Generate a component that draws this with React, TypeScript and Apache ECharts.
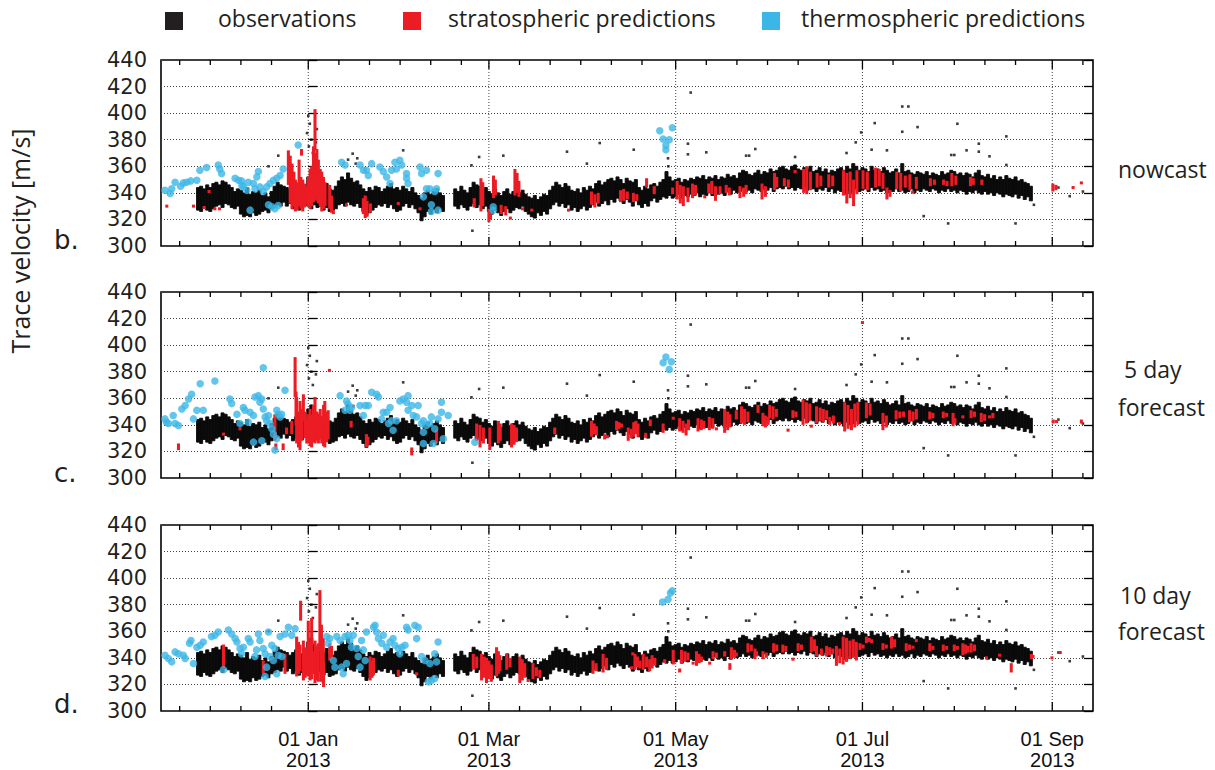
import React, { useEffect, useRef } from "react";
import * as echarts from "echarts";

// x values: days relative to 01 Jan 2013
const X_MIN = -48.1;
const X_MAX = 256.3;
const Y_MIN = 300;
const Y_MAX = 440;
const Y_STEP = 20;

const majorTickDays = [0, 59, 120, 181, 243];
const majorTickLabels = ["01 Jan\n2013", "01 Mar\n2013", "01 May\n2013", "01 Jul\n2013", "01 Sep\n2013"];
const minorTickDays = [-42, -32, -22, -12, 10, 20, 30, 40, 50, 69, 79, 89, 99, 109, 130, 140, 150, 160, 170, 191, 201, 211, 221, 231, 253];

const panelLetters = ["b.", "c.", "d."];
const panelNames = [["nowcast"], ["5 day", "forecast"], ["10 day", "forecast"]];
const legendNames = ["observations", "stratospheric predictions", "thermospheric predictions"];
const yTitle = "Trace velocity [m/s]";

// observations: daily core range, first value = day -36
const obsStartDay = -36;
const obsLow = [
  327, 326, 329, 327, 326, 328, 330, 331, 329, 332,
  331, 329, 328, 330, 324, 322, 323, 322, 325, 323,
  324, 326, 327, 325, 328, 329, 331, 330, 333, 330,
  332, 328, 330, 327, 329, 331, 330, 328, 331, 329,
  330, 327, 329, 326, 327, 328, 331, 332, 330, 333,
  331, 330, 332, 329, 326, 323, 325, 327, 329, 331,
  330, 332, 329, 331, 328, 326, 327, 330, 332, 329,
  331, 328, 325, 319, 322, 326, 324, 327, 325, 328,
  326, null, null, null, 330, 328, 331, 329, 327, 330,
  332, 329, 331, 328, 330, 326, 324, 327, 325, 323,
  326, 328, 325, 327, 329, 328, 330, 326, 324, 322,
  321, 325, 323, 326, 324, 328, 331, 333, 330, 332,
  329, 331, 327, 329, 326, 328, 330, 327, 329, 331,
  333, 330, 332, 334, 331, 335, 333, 336, 334, 332,
  335, 333, 330, 334, 331, 329, 332, 330, 334, 336,
  333, 335, 337, 336, 338, 336, 337, 339, 336, 338,
  337, 339, 338, 340, 337, 339, 338, 340, 338, 341,
  339, 340, 338, 341, 339, 342, 340, 341, 343, 341,
  342, 340, 343, 342, 341, 343, 342, 344, 341, 343,
  344, 343, 345, 343, 344, 342, 344, 343, 345, 342,
  344, 343, 341, 343, 342, 344, 341, 343, 340, 342,
  341, 339, 342, 340, 341, 343, 341, 342, 343, 341,
  344, 342, 343, 341, 342, 340, 342, 341, 343, 341,
  342, 340, 341, 343, 340, 342, 341, 343, 342, 341,
  343, 342, 340, 342, 341, 343, 341, 342, 340, 342,
  341, 339, 341, 340, 342, 340, 339, 341, 339, 340,
  338, 340, 339, 337, 339, 338, 337, 339, 336, 338,
  335, 337, 334,
];
const obsHigh = [
  344, 345, 343, 346, 344, 347, 348, 346, 349, 348,
  346, 344, 341, 343, 342, 340, 344, 339, 341, 340,
  342, 338, 340, 337, 341, 345, 348, 346, 345, 344,
  342, 344, 346, 341, 343, 345, 352, 355, 350, 348,
  346, 344, 347, 343, 342, 345, 349, 352, 350, 355,
  351, 348, 349, 346, 343, 341, 344, 342, 345, 344,
  341, 343, 345, 347, 343, 344, 342, 345, 343, 341,
  344, 340, 338, 336, 340, 342, 339, 341, 343, 340,
  338, null, null, null, 343, 341, 345, 342, 340, 344,
  348, 346, 345, 342, 344, 341, 339, 343, 340, 338,
  341, 343, 339, 341, 343, 340, 342, 339, 337, 336,
  338, 335, 337, 339, 338, 342, 345, 348, 346, 344,
  347, 345, 342, 341, 343, 340, 344, 342, 345, 343,
  347, 349, 346, 348, 350, 351, 349, 352, 350, 347,
  351, 349, 348, 350, 344, 342, 345, 343, 346, 347,
  345, 348, 350, 356, 352, 349, 350, 351, 348, 350,
  349, 351, 350, 352, 351, 353, 350, 352, 351, 353,
  350, 352, 351, 354, 352, 353, 351, 355, 357, 356,
  354, 353, 355, 357, 354, 356, 355, 358, 356, 357,
  359, 360, 358, 357, 360, 361, 358, 357, 359, 358,
  360, 356, 357, 359, 356, 358, 355, 357, 356, 358,
  359, 357, 360, 358, 362, 360, 357, 359, 358, 356,
  360, 357, 358, 356, 359, 357, 355, 356, 358, 355,
  362, 356, 357, 355, 354, 356, 355, 354, 356, 353,
  355, 354, 353, 356, 354, 355, 357, 356, 354, 355,
  353, 355, 354, 352, 355, 357, 353, 352, 354, 351,
  353, 350, 352, 350, 353, 351, 350, 352, 349, 350,
  348, 347, 345,
];
// isolated observation points [day, m/s]
const obsOutliers = [
  [0, 398], [0.5, 392], [-0.4, 385], [1.0, 380], [2.8, 388], [1.5, 370], [0.2, 375], [2.5, 378],
  [-9.8, 368], [-13, 360], [13, 365], [14.5, 369.5], [15.5, 362], [16, 366], [31, 372],
  [53.6, 311.5], [55.8, 367], [53.3, 360.7], [63.7, 368], [84.5, 371], [95.2, 377.5], [91, 362],
  [106.3, 372.5], [117.5, 366], [117.6, 360], [124.9, 415.5], [124, 377], [124, 369], [130, 370.5],
  [143, 368], [144, 368], [146, 373], [159, 367], [175.8, 370], [178.8, 378], [180.6, 385.5],
  [184, 372.5], [185, 392.5], [189, 372], [194, 405], [196, 405], [194, 386], [199, 389.5],
  [201, 322.5], [209, 317], [210, 368.5], [211, 368.5], [212, 392], [215, 372], [219, 377],
  [219, 371], [222.5, 367.5], [228, 382.5], [228, 361], [231, 317], [237, 331],
  [245, 344], [248.7, 337.5], [253, 341],
];

// stratospheric predictions [day, low, high]
const stratNowcast = [
  [-46.2, 330, 330], [-37.5, 330, 330], [-34, 329, 329], [-32.4, 341, 341], [-30.5, 328, 328], [-29, 328, 328],
  [-6.5, 346, 372], [-5.9, 332, 368], [-5.3, 328, 362], [-4.7, 330, 356], [-4.2, 326, 350], [-3.6, 327, 348],
  [-3.0, 330, 365], [-2.4, 328, 352], [-2.2, 368, 373], [-1.8, 326, 350], [-1.2, 329, 347], [-0.6, 331, 345],
  [0, 330, 352], [0.6, 328, 358], [1.1, 330, 360], [1.7, 333, 375], [2.2, 372, 403], [2.2, 335, 370],
  [2.8, 334, 373], [3.3, 332, 365], [3.9, 330, 358], [4.4, 326, 356], [5, 328, 352], [5.5, 330, 348],
  [7, 328, 346], [7.6, 325, 338], [8.2, 324, 327], [12.5, 331, 331], [18, 324, 336], [18.6, 321, 338],
  [19.2, 322, 334], [20.3, 325, 332], [29.4, 332, 332], [36.5, 328, 328],
  [54.2, 329, 336], [56.4, 326, 351], [57, 330, 348], [59, 318, 328], [59.5, 320, 326], [60.5, 336, 353],
  [61.1, 338, 350], [63, 324, 331], [64.5, 323, 330], [66, 321, 321], [67.5, 338, 358], [68.2, 340, 355],
  [68.8, 337, 349], [70, 328, 328], [73, 327, 327], [85, 327, 327], [92.5, 331, 341], [93.6, 329, 339],
  [94.7, 332, 340], [102, 333, 342], [103, 334, 343], [104.2, 335, 341], [106.2, 333, 340], [107.3, 334, 339],
  [110.5, 344, 351], [113, 339, 345], [119, 339, 344], [120.5, 335, 349], [121.5, 332, 346], [122.5, 330, 345],
  [124, 333, 344], [125.5, 336, 347], [126.5, 338, 346], [129.5, 337, 337], [130.8, 340, 347], [131.8, 339, 349],
  [133, 334, 345], [134.5, 339, 345], [136.5, 340, 346], [137.5, 338, 344], [141, 336, 345], [142.2, 337, 344],
  [143, 339, 346], [148.2, 335, 347], [149.3, 337, 345], [152.3, 342, 355], [153, 344, 352], [155.5, 345, 351],
  [156.8, 344, 350], [159, 356, 356], [161.8, 340, 358], [162.8, 339, 360], [164, 342, 356], [166.2, 344, 355],
  [167.4, 345, 353], [170, 344, 354], [171.3, 345, 353], [174.8, 338, 357], [175.9, 332, 355], [177, 336, 356],
  [178.1, 330, 350], [179.2, 339, 357], [181.2, 343, 357], [182.6, 342, 356], [185.3, 344, 359], [186.5, 345, 358],
  [187.7, 343, 355], [189, 335, 344], [190, 337, 342], [192.2, 343, 356], [193.5, 341, 355], [195, 344, 353],
  [196.5, 342, 354], [197.4, 340, 341], [198.6, 343, 352], [203.2, 345, 351], [204.5, 346, 350], [207.5, 346, 350],
  [208.6, 345, 349], [210.2, 345, 355], [211.5, 346, 353], [216.3, 345, 352], [217.2, 346, 351], [220, 346, 350],
  [243.2, 341, 347], [244.2, 342, 346], [249.8, 344, 344], [252.5, 347, 348],
];
const strat5day = [
  [-42.4, 321, 326], [-27.7, 333, 333], [-22.3, 337, 337], [-10.9, 328, 348], [-10.6, 321, 326], [-8.2, 321, 326],
  [-7.1, 333, 338], [-5.4, 333, 343], [-4.3, 361, 391], [-4.0, 340, 365], [-3.8, 326, 361], [-3.2, 323, 350],
  [-2.7, 321, 358], [-2.1, 328, 352], [-1.6, 343, 363], [-1.1, 330, 350], [-0.5, 326, 345], [0, 326, 348],
  [0.6, 324, 352], [1.1, 323, 348], [1.7, 327, 355], [2.2, 326, 361], [2.8, 328, 350], [3.3, 326, 348],
  [3.9, 329, 352], [4.4, 326, 346], [5.0, 324, 355], [5.4, 323, 358], [6.0, 327, 350], [6.5, 329, 351],
  [6.9, 380, 382], [14, 338, 343], [14.7, 353, 355], [19, 323, 333], [19.5, 325, 331], [33.8, 317, 323],
  [41.9, 326, 336], [55, 328, 341], [56.1, 323, 340], [57.2, 326, 338], [59.3, 321, 338], [62.1, 326, 343],
  [62.7, 328, 341], [66.4, 323, 341], [67.2, 325, 340], [68, 327, 338], [80.5, 333, 338], [92.5, 331, 343],
  [93.4, 333, 341], [94.1, 332, 339], [96.8, 329, 333], [97.7, 330, 332], [100.7, 336, 343], [101.5, 337, 342],
  [102.3, 338, 341], [104.5, 328, 338], [105.5, 330, 337], [107, 333, 343],
  [106.3, 331, 342], [107.7, 331, 341], [110.2, 330, 334], [111.7, 339, 344], [115.9, 334, 341], [119.2, 344, 346],
  [121.3, 335, 345], [122.4, 334, 343], [123.4, 332, 341], [124.2, 336, 344], [127.3, 335, 345], [128.4, 336, 344],
  [129.2, 337, 343], [131, 336, 346], [132.1, 337, 345], [133.3, 337, 337], [136, 334, 352], [137, 336, 350],
  [137.7, 338, 348], [139.8, 344, 351], [141.5, 341, 354], [142.5, 340, 352], [143.6, 342, 350], [146.9, 349, 355],
  [148.5, 339, 349], [149.3, 338, 347], [150.2, 340, 346], [150.7, 345, 355], [151.8, 344, 354], [152.9, 346, 352],
  [156.7, 336, 336], [158.3, 345, 351], [159.3, 346, 350], [161.6, 340, 359], [162.7, 341, 357], [163.8, 343, 356],
  [164.3, 339, 339], [166, 341, 354], [167.2, 343, 353], [168.2, 342, 352], [169.3, 344, 351], [170.3, 340, 346],
  [171.5, 341, 347], [173.5, 341, 341], [175.2, 335, 357], [176.3, 337, 355], [177.4, 336, 352], [178.5, 338, 356],
  [179.5, 340, 357], [181, 417, 417], [182.3, 345, 357], [183.5, 347, 356], [187.7, 336, 349], [188.8, 338, 347],
  [192, 344, 351], [193.2, 345, 350], [194.4, 346, 350], [196.4, 342, 351], [197.5, 343, 350], [198.6, 344, 352],
  [203, 344, 350], [204, 345, 349], [207.4, 345, 350], [208.5, 346, 349], [210.6, 339, 349], [211.2, 341, 345],
  [213.8, 345, 347], [216.5, 345, 351], [217.6, 346, 350], [219.8, 342, 349], [220.9, 343, 348], [222.5, 345, 347],
  [223.6, 345, 349], [243.3, 341, 344], [244.4, 342, 343], [252.5, 341, 344],
];
const strat10day = [
  [-27.7, 333, 350], [-14.7, 328, 338], [-7.6, 328, 343], [-3.8, 326, 356], [-3.2, 328, 352], [-2.5, 368, 383],
  [-2.7, 330, 350], [-1.6, 323, 353], [-1.0, 325, 348], [-0.5, 327, 346], [0, 326, 368], [0.6, 323, 352],
  [1.1, 324, 370], [1.6, 328, 345], [2.2, 321, 353], [2.8, 323, 348], [3.3, 322, 351], [3.8, 345, 391],
  [4.3, 322, 365], [4.9, 321, 355], [5.0, 318, 338], [7.0, 338, 351], [7.6, 340, 349], [20.2, 323, 341],
  [20.8, 325, 338], [21.3, 327, 340], [29.4, 326, 331], [35.4, 327, 329], [53.9, 331, 343], [55, 332, 341],
  [56.6, 323, 343], [57.5, 325, 341], [58.2, 321, 340], [59, 324, 338], [59.8, 322, 335], [61.5, 326, 348],
  [62.1, 328, 345], [62.6, 330, 342], [64.8, 331, 343], [65.9, 333, 340], [69.1, 321, 341], [69.9, 323, 339],
  [70.7, 325, 336], [71.8, 323, 323], [73.4, 324, 336], [74.5, 326, 333], [75.6, 325, 331], [93, 328, 338],
  [94, 330, 336], [96.3, 329, 343], [97.4, 331, 340], [106, 343, 343],
  [105.6, 332, 333], [106.7, 331, 343], [107.5, 333, 341], [108.3, 332, 338], [109.4, 331, 343], [110.5, 333, 341],
  [111.5, 330, 339], [112.3, 332, 342], [113.2, 334, 340], [116.4, 336, 339], [119.2, 335, 346], [121.3, 329, 332],
  [121.9, 336, 346], [123, 337, 345], [124, 338, 344], [125.7, 336, 336], [126.8, 334, 345], [127.6, 336, 343],
  [128.4, 337, 341], [131.1, 336, 336], [132.2, 339, 345], [133.3, 340, 344], [136, 341, 345], [137.7, 331, 336],
  [138.2, 339, 348], [139.2, 340, 346], [139.8, 341, 344], [143.6, 344, 351], [144.7, 345, 350], [145.9, 339, 347],
  [146.4, 341, 345], [148.5, 339, 345], [149.6, 340, 344], [152, 344, 351], [153, 345, 350], [155, 344, 350],
  [156, 345, 349], [158.3, 339, 339], [160, 345, 351], [161.1, 346, 350], [164.3, 344, 356], [165.3, 345, 354],
  [166, 341, 349], [167.6, 342, 347], [169.3, 341, 349], [170.3, 342, 348], [171.3, 343, 347], [172.5, 334, 349],
  [173.6, 336, 347], [174.7, 335, 356], [175.8, 337, 355], [176.9, 339, 353], [178, 340, 354], [179, 338, 352],
  [180.2, 346, 351], [181.2, 347, 350], [182.3, 351, 356], [183.2, 352, 355], [184, 351, 354], [187.7, 346, 351],
  [188.8, 347, 350], [190.5, 347, 356], [191.5, 348, 354], [195.3, 345, 351], [196.4, 346, 350], [197.5, 347, 349],
  [198.6, 353, 353], [203, 345, 351], [204, 346, 349], [207.4, 345, 350], [208.5, 346, 349], [211, 345, 350],
  [212, 346, 349], [213.8, 342, 351], [214.7, 343, 350], [215.5, 344, 349], [216.5, 344, 351], [217.6, 345, 350],
  [221.5, 339, 341], [225.8, 342, 342], [229.6, 329, 336], [236.2, 339, 343], [236.7, 340, 342], [242.9, 339, 341],
  [245.6, 343, 345],
];

// thermospheric predictions [day, m/s]
const thermoNowcast = [
  [-46.8, 342], [-45.1, 339.5], [-44.6, 343], [-43.5, 348], [-41.7, 345], [-40.8, 347.5], [-39.7, 348], [-38.4, 349],
  [-36.4, 349.5], [-35.4, 357], [-33.2, 359], [-29.4, 361], [-28.9, 358], [-28.3, 354.5], [-23.9, 351], [-22.8, 349.5],
  [-21.8, 349], [-21.7, 345.5], [-21.2, 344.5], [-20.1, 342], [-19.6, 348], [-19, 327], [-17.9, 347], [-17.4, 343],
  [-16.3, 356], [-16.8, 352], [-15.8, 344.5], [-14.7, 341], [-13.6, 344.5], [-12.5, 347], [-11.4, 349.5], [-10.3, 351],
  [-9.2, 353], [-8.2, 358], [-13, 331], [-11.9, 329.5], [-10.9, 328], [-9.8, 330.5], [-3.3, 376], [10.9, 363],
  [12, 361], [16.9, 361], [18, 357], [19, 357], [19.6, 353], [20.7, 362], [23.4, 359.5], [24.5, 356],
  [25.6, 352], [26.7, 347], [27.2, 357], [28.3, 363], [28.8, 358], [29.9, 364.5], [30.5, 361], [32.1, 354.5],
  [32.1, 351], [32.6, 347], [36.5, 359.5], [37, 354.5], [37.6, 337], [38.6, 357], [38.6, 343], [39.7, 343],
  [40.2, 331], [40.2, 326], [41.3, 341], [41.9, 343], [42.4, 354.5], [42.4, 327], [60.4, 329.5], [60.4, 327],
  [114.8, 386.75], [115.9, 380.5], [116.8, 375.75], [116.8, 372.5], [117.9, 380], [118.9, 389],
];
const thermo5day = [
  [-46.8, 344.5], [-46.3, 342], [-45.7, 341], [-44.1, 347], [-43.5, 341], [-42.4, 339.5], [-41.3, 352], [-40.2, 354.5],
  [-39.1, 359.5], [-38.1, 363], [-37.5, 344.5], [-36.4, 351], [-35.3, 371], [-34.3, 351], [-30.5, 373], [-25.6, 359.5],
  [-25, 356], [-23.3, 348], [-22.3, 341], [-21.2, 353], [-20.7, 351], [-19.6, 342], [-19, 349.5], [-17.9, 347],
  [-17.9, 327], [-17.4, 361], [-16.3, 362], [-15.8, 357], [-15.2, 359.5], [-14.7, 352], [-14.7, 383], [-14.1, 346],
  [-13.6, 343], [-13, 347], [-12.5, 341], [-11.9, 337], [-11.4, 333], [-10.9, 321], [-10.3, 351], [-9.8, 348],
  [-9.2, 346], [-8.7, 348], [-7.6, 366], [-15.2, 328], [-10.3, 329.5], [10.4, 362], [12, 351], [12.5, 358],
  [13, 355.5], [13.6, 351], [14.1, 353], [16.9, 354.5], [18, 347], [18.6, 354.5], [19.6, 354.5], [20.7, 364.5],
  [22.3, 363], [22.9, 361], [24, 344.5], [24.5, 349.5], [25.6, 349.5], [26.2, 341], [26.7, 353], [27.2, 343],
  [27.7, 336], [28.8, 343], [29.9, 358], [31, 359.5], [32.1, 357], [32.6, 362], [32.6, 351], [33.8, 354.5],
  [34.3, 347], [35.4, 346], [35.9, 354.5], [37, 341], [37.6, 343], [37.6, 334.5], [37.6, 326], [38.6, 339.5],
  [39.7, 341], [40.2, 346], [40.8, 326], [41.3, 337], [42.4, 344.5], [43.5, 357], [43.5, 349.5], [44.1, 329.5],
  [45.7, 347], [54.4, 327], [116.8, 391], [115.9, 386.75], [118.6, 387.5], [117.9, 381.75],
];
const thermo10day = [
  [-46.8, 342], [-45.7, 339.5], [-44.6, 337], [-43.5, 344.5], [-42.4, 343], [-40.8, 342], [-40.2, 339.5], [-38.8, 351],
  [-38.3, 353], [-37.5, 335.75], [-36.4, 348], [-35.3, 349.5], [-34.3, 352], [-31.6, 356], [-30.5, 357], [-29.4, 359.5],
  [-27.7, 331], [-26.1, 361], [-25, 358], [-23.9, 354.5], [-23.3, 352], [-22.3, 347], [-21.8, 343], [-21.2, 348],
  [-19.6, 354.5], [-19, 352], [-17.4, 341], [-16.9, 346], [-16.3, 358], [-15.8, 353], [-14.7, 347], [-14.1, 343],
  [-14.1, 326], [-13.6, 333], [-13, 359.5], [-12.5, 341], [-11.9, 349.5], [-11.4, 338], [-10.9, 347], [-10.3, 328],
  [-9.8, 342], [-9.2, 356], [-8.7, 341], [-7.6, 358], [-6.5, 363], [-5.4, 357], [-4.3, 362], [6, 356],
  [6.5, 351], [7, 354.5], [8.2, 338], [8.7, 333], [9.3, 356], [10.4, 353], [10.9, 333], [11.4, 328],
  [12, 356], [12.5, 335.75], [13, 357], [13.6, 353], [14.1, 348], [14.7, 357], [15.8, 347], [16.3, 341],
  [16.9, 333], [17.4, 353], [18, 346], [18.6, 338], [19, 359.5], [21.3, 363], [21.8, 364.5], [22.3, 359.5],
  [22.9, 354.5], [24, 351], [24.5, 357], [25.6, 348], [26.7, 352], [27.7, 354.5], [28.3, 349.5], [29.4, 347],
  [29.9, 343], [30.5, 348], [31.6, 349.5], [32.1, 363], [32.6, 361], [34.8, 364.5], [35.4, 354.5], [35.9, 363],
  [37, 341], [38.1, 338], [39.2, 322], [39.7, 335.75], [40.2, 323], [41.3, 324.5], [41.3, 343], [41.9, 337],
  [42.4, 352], [115.7, 382], [117.5, 384], [118.3, 388.75], [118.9, 390.5],
];

const BLACK = "#0a0a0a";
const RED = "#ec1c24";
const BLUE = "#3cb6e6";
const TEXT = "#231f20";

const GRID_LEFT = 161;
const GRID_WIDTH = 932;
const GRID_HEIGHT = 186;
const GRID_TOPS = [60, 292, 525];

function rangeItem(widthDays: number, minPx: number, seam: number) {
  return (params: any, api: any) => {
    const d = api.value(0);
    const lo = api.value(1);
    const hi = api.value(2);
    const a = api.coord([d - widthDays / 2, hi]);
    const b = api.coord([d + widthDays / 2, lo]);
    let y = a[1];
    let h = b[1] - a[1];
    if (h < minPx) {
      y -= (minPx - h) / 2;
      h = minPx;
    }
    const c = api.visual("color");
    return {
      type: "rect",
      shape: { x: a[0], y, width: b[0] - a[0], height: h },
      style: seam > 0 ? { fill: c, stroke: c, lineWidth: seam } : { fill: c },
    };
  };
}

function vGridItem(params: any, api: any) {
  const d = api.value(0);
  const t = api.coord([d, Y_MAX]);
  const b = api.coord([d, Y_MIN]);
  return {
    type: "line",
    shape: { x1: t[0], y1: t[1], x2: b[0], y2: b[1] },
    style: { stroke: "#444", lineWidth: 1, lineDash: [1, 2] },
  };
}

function tickItem(params: any, api: any) {
  const d = api.value(0);
  const major = api.value(1) === 1;
  const t = api.coord([d, Y_MAX]);
  const b = api.coord([d, Y_MIN]);
  const len = major ? 9 : 5;
  return {
    type: "group",
    children: [
      { type: "line", shape: { x1: t[0], y1: t[1], x2: t[0], y2: t[1] + len }, style: { stroke: "#000", lineWidth: 1.3 } },
      { type: "line", shape: { x1: b[0], y1: b[1], x2: b[0], y2: b[1] - len }, style: { stroke: "#000", lineWidth: 1.3 } },
    ],
  };
}

function labelItem(params: any, api: any) {
  const d = api.value(0);
  const k = api.value(1);
  const b = api.coord([d, Y_MIN]);
  return {
    type: "text",
    x: b[0],
    y: b[1] + 38,
    style: {
      text: majorTickLabels[k],
      fontSize: 20,
      lineHeight: 21,
      fontFamily: "Liberation Sans, Arial, sans-serif",
      fill: "#111",
      align: "center",
      verticalAlign: "middle",
    },
  };
}

function buildOption() {
  const obsData: any[] = [];
  obsLow.forEach((lo, i) => {
    const hi = obsHigh[i];
    if (lo != null && hi != null) obsData.push([obsStartDay + i, lo, hi]);
  });
  const panels = [
    { strat: stratNowcast, thermo: thermoNowcast },
    { strat: strat5day, thermo: thermo5day },
    { strat: strat10day, thermo: thermo10day },
  ];
  const grid: any[] = [];
  const xAxis: any[] = [];
  const yAxis: any[] = [];
  const series: any[] = [];
  const tickData = [
    ...majorTickDays.map((d) => [d, 1]),
    ...minorTickDays.map((d) => [d, 0]),
  ];
  panels.forEach((p, i) => {
    grid.push({
      left: GRID_LEFT,
      top: GRID_TOPS[i],
      width: GRID_WIDTH,
      height: GRID_HEIGHT,
      show: true,
      borderColor: "#000",
      borderWidth: 1.6,
      backgroundColor: "transparent",
    });
    xAxis.push({
      gridIndex: i,
      type: "value",
      min: X_MIN,
      max: X_MAX,
      axisLine: { show: false },
      axisTick: { show: false },
      axisLabel: { show: false },
      splitLine: { show: false },
    });
    yAxis.push({
      gridIndex: i,
      type: "value",
      position: "left",
      min: Y_MIN,
      max: Y_MAX,
      interval: Y_STEP,
      axisLine: { show: false },
      axisTick: { show: true, inside: true, length: 9, lineStyle: { color: "#000", width: 1.3 } },
      axisLabel: { show: true, margin: 14, fontSize: 21, fontFamily: "DejaVu Sans, sans-serif", color: TEXT },
      splitLine: { show: true, lineStyle: { color: "#444", width: 1, type: [1, 2] } },
    });
    yAxis.push({
      gridIndex: i,
      type: "value",
      position: "right",
      min: Y_MIN,
      max: Y_MAX,
      interval: Y_STEP,
      axisLine: { show: false },
      axisTick: { show: true, inside: true, length: 9, lineStyle: { color: "#000", width: 1.3 } },
      axisLabel: { show: false },
      splitLine: { show: false },
    });
    const ax = { xAxisIndex: i, yAxisIndex: i * 2 };
    series.push({
      type: "custom", ...ax, z: 1, silent: true,
      data: majorTickDays.map((d) => [d, 0]),
      encode: { x: 0, y: 1 },
      renderItem: vGridItem,
    });
    series.push({
      type: "custom", name: legendNames[0], ...ax, z: 2, silent: true,
      data: obsData,
      encode: { x: 0, y: [1, 2] },
      itemStyle: { color: BLACK },
      renderItem: rangeItem(1.0, 1, 0.9),
    });
    series.push({
      type: "scatter", name: legendNames[0], ...ax, z: 2, silent: true,
      data: obsOutliers,
      symbol: "rect",
      symbolSize: 2.6,
      itemStyle: { color: BLACK },
    });
    series.push({
      type: "custom", name: legendNames[1], ...ax, z: 3, silent: true,
      data: p.strat,
      encode: { x: 0, y: [1, 2] },
      itemStyle: { color: RED },
      renderItem: rangeItem(1.0, 3, 0),
    });
    series.push({
      type: "scatter", name: legendNames[2], ...ax, z: 4, silent: true,
      data: p.thermo,
      symbol: "circle",
      symbolSize: 7.5,
      itemStyle: { color: BLUE },
    });
    series.push({
      type: "custom", ...ax, z: 6, silent: true,
      data: tickData,
      encode: { x: 0, y: 1 },
      renderItem: tickItem,
    });
    if (i === 2) {
      series.push({
        type: "custom", ...ax, z: 6, silent: true, clip: false,
        data: majorTickDays.map((d, k) => [d, k]),
        encode: { x: 0, y: 1 },
        renderItem: labelItem,
      });
    }
  });

  const sans = "Open Sans, Noto Sans, sans-serif";
  const legendX = [[165, 218], [403, 448], [762, 801]];
  const legendColors = ["#231f20", RED, BLUE];
  const graphic: any[] = [];
  legendNames.forEach((n, k) => {
    graphic.push({ type: "rect", left: legendX[k][0], top: 12, shape: { width: 18, height: 18 }, style: { fill: legendColors[k] } });
    graphic.push({ type: "text", left: legendX[k][1], top: 6, style: { text: n, fontSize: 23, fontFamily: sans, fill: TEXT } });
  });
  graphic.push({
    type: "text", x: 20, y: 241, rotation: Math.PI / 2,
    style: { text: yTitle, fontSize: 25, fontFamily: sans, fill: TEXT, align: "center", verticalAlign: "middle" },
  });
  const letterY = [240, 473, 704];
  panelLetters.forEach((t, k) => {
    graphic.push({ type: "text", x: 54, y: letterY[k], style: { text: t, fontSize: 26, fontFamily: "DejaVu Sans, sans-serif", fill: TEXT, verticalAlign: "middle" } });
  });
  const nameY = [[169], [369, 407], [595, 631]];
  const nameX = [[1118], [1124, 1118], [1120, 1118]];
  panelNames.forEach((lines, k) => {
    lines.forEach((t, j) => {
      graphic.push({ type: "text", x: nameX[k][j], y: nameY[k][j], style: { text: t, fontSize: 23, fontFamily: sans, fill: TEXT, verticalAlign: "middle" } });
    });
  });

  return {
    animation: false,
    backgroundColor: "#fff",
    grid,
    xAxis,
    yAxis,
    series,
    graphic,
  };
}

export default function App() {
  const ref = useRef<HTMLDivElement>(null);
  useEffect(() => {
    if (!ref.current) return;
    const chart = echarts.init(ref.current, undefined, { renderer: "svg" });
    chart.setOption(buildOption() as any);
    return () => chart.dispose();
  }, []);
  return <div ref={ref} style={{ position: "absolute", left: 0, top: 0, width: 1215, height: 770 }} />;
}
